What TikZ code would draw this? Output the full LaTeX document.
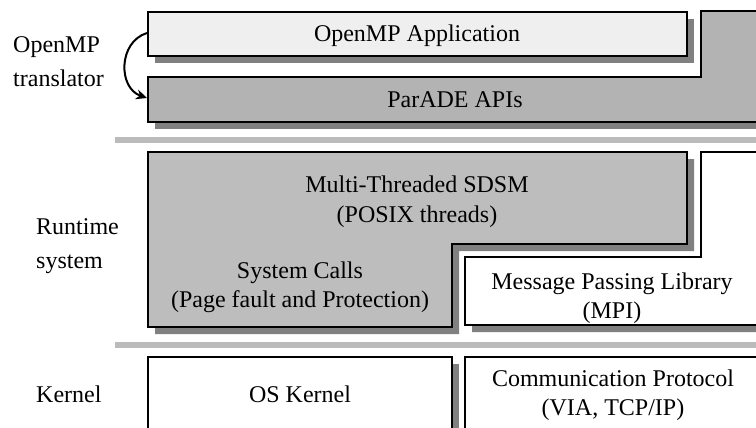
\documentclass[tikz,border=0pt]{standalone}
\usepackage{fontspec}
\setmainfont{Liberation Serif}
\usetikzlibrary{arrows.meta}
\definecolor{shadowgray}{HTML}{808080}
\definecolor{paleface}{HTML}{EFEFEF}
\definecolor{apigray}{HTML}{B3B3B3}
\definecolor{dsmgray}{HTML}{BDBDBD}
\definecolor{bargray}{HTML}{BBBBBB}
\tikzset{
  layer/.style={draw=black, line width=2.6pt, line join=miter},
  shade/.style={fill=shadowgray, draw=none},
  sepbar/.style={fill=bargray, draw=none},
  % multi-line nodes: the base anchor sits on the last line's baseline
  boxtext/.style={font=\fontsize{24}{29}\selectfont, align=center, anchor=base, inner sep=0pt},
  sidetext/.style={font=\fontsize{24}{34}\selectfont, align=left, anchor=base west, inner sep=0pt},
}
\begin{document}
\begin{tikzpicture}[x=1pt, y=-1pt]
\useasboundingbox (0,0) rectangle (756,428);
\fill[white] (0,0) rectangle (756,428);
\clip (0,0) rectangle (756,428);

% --- translator layer -------------------------------------------------
\fill[shade] (155,19) rectangle (694,63);
\draw[layer, fill=paleface] (148,12) rectangle (687,56);
\node[boxtext] (app) at (417,42) {OpenMP Application};

\fill[shade] (155,84) -- (708,84) -- (708,18) -- (780,18) -- (780,129) -- (155,129) -- cycle;
\draw[layer, fill=apigray] (148,77) -- (701,77) -- (701,11) -- (770,11) -- (770,122) -- (148,122) -- cycle;
\node[boxtext] (api) at (455,108) {ParADE APIs};

\coordinate (trfrom) at (147,33);
\coordinate (trto) at (147,98);
\draw[line width=2pt, -{Stealth[length=11pt, width=10pt]}]
  (trfrom) .. controls (118,42) and (118,88) .. (trto);

\node[sidetext] (lblomp) at (13,87) {OpenMP\\translator};

% --- separator bars -----------------------------------------------------
\fill[sepbar] (115,137) rectangle (770,143);
\fill[sepbar] (115,342) rectangle (770,348);

% --- runtime layer ------------------------------------------------------
\fill[shade] (155,159) -- (694,159) -- (694,251) -- (459,251) -- (459,334) -- (155,334) -- cycle;
\draw[layer, fill=dsmgray] (148,152) -- (687,152) -- (687,244) -- (452,244) -- (452,327) -- (148,327) -- cycle;
\node[boxtext] (sdsm) at (417,222) {Multi-Threaded SDSM\\(POSIX threads)};
\node[boxtext] (sysc) at (300,307) {System Calls\\(Page fault and Protection)};

\fill[shade] (472,264) -- (708,264) -- (708,159) -- (780,159) -- (780,332) -- (472,332) -- cycle;
\draw[layer, fill=white] (465,257) -- (701,257) -- (701,152) -- (770,152) -- (770,325) -- (465,325) -- cycle;
\node[boxtext] (mpi) at (612,318) {Message Passing Library\\(MPI)};

\node[sidetext] (lblrt) at (36,268) {Runtime\\system};

% --- kernel layer -------------------------------------------------------
\fill[shade] (155,364) rectangle (459,450);
\draw[layer, fill=white] (148,357) rectangle (452,440);
\node[boxtext] (oskern) at (300,402) {OS Kernel};

\fill[shade] (472,364) rectangle (780,450);
\draw[layer, fill=white] (465,357) rectangle (770,440);
\node[boxtext] (comm) at (613,415) {Communication Protocol\\(VIA, TCP/IP)};

\node[sidetext] (lblkern) at (36,402) {Kernel};
\end{tikzpicture}
\end{document}
